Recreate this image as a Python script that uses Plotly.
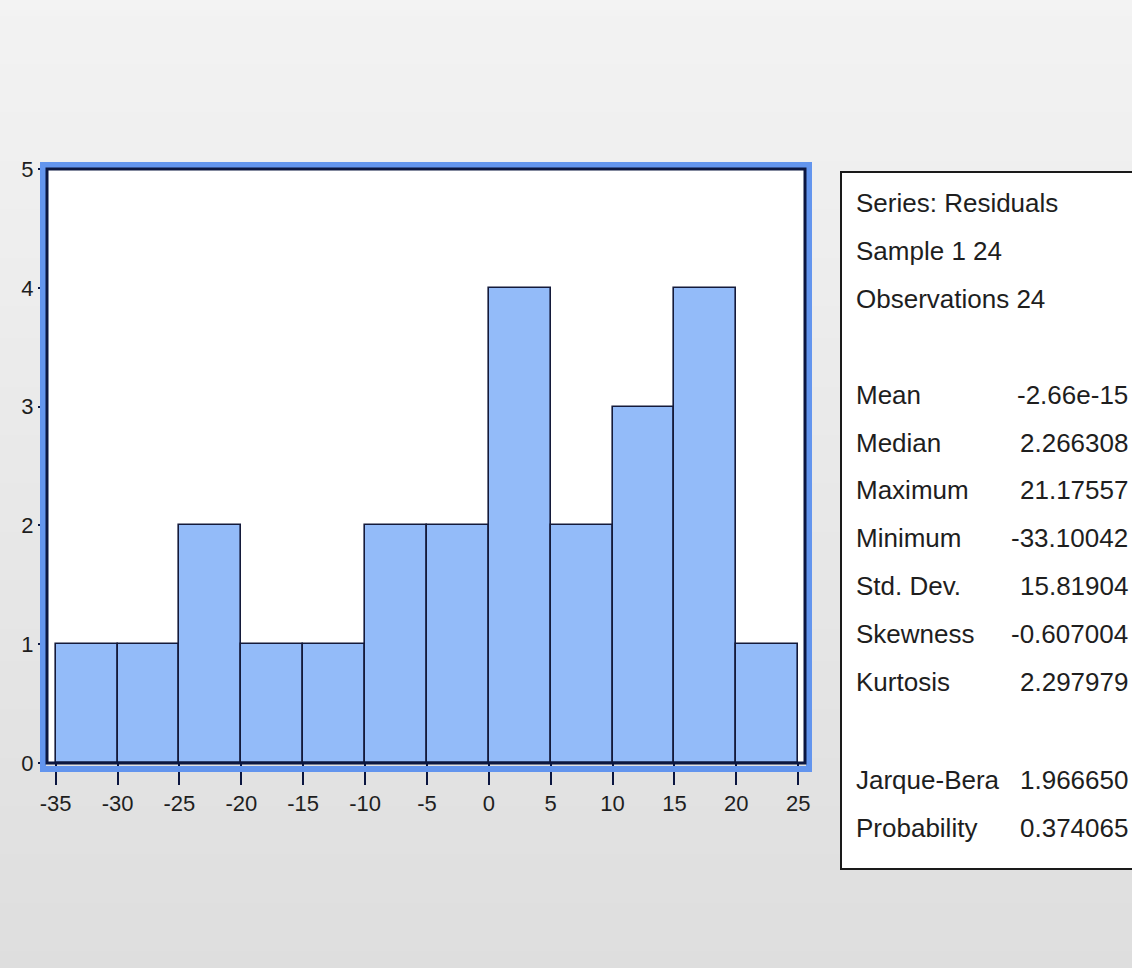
import plotly.graph_objects as go

# ---------------- data ----------------
bin_left = [-35, -30, -25, -20, -15, -10, -5, 0, 5, 10, 15, 20]
bin_width = 5
counts = [1, 1, 2, 1, 1, 2, 2, 4, 2, 3, 4, 1]
x_ticks = [-35, -30, -25, -20, -15, -10, -5, 0, 5, 10, 15, 20, 25]
y_ticks = [0, 1, 2, 3, 4, 5]

header_lines = ["Series: Residuals", "Sample 1 24", "Observations 24"]
stat_names = ["Mean", "Median", "Maximum", "Minimum", "Std. Dev.", "Skewness", "Kurtosis"]
stat_values = ["-2.66e-15", "2.266308", "21.17557", "-33.10042", "15.81904", "-0.607004", "2.297979"]
test_names = ["Jarque-Bera", "Probability"]
test_values = ["1.966650", "0.374065"]

# ---------------- geometry (pixels) ----------------
W, H = 1132, 968
L, R, T, B = 47, 805, 169, 763   # plot area in px
PW, PH = R - L, B - T

def px(xp):
    return (xp - L) / PW

def py(yp):
    return (B - yp) / PH

FONT = "Liberation Sans Narrow, Arial Narrow, Liberation Sans, Arial, sans-serif"
NAVY = "#0b1640"
TXT = "#1e1e1e"

fig = go.Figure()
fig.add_trace(go.Bar(
    x=bin_left, y=counts, width=bin_width, offset=0,
    marker=dict(color="#93bbf9", line=dict(color="#141a3a", width=1.6)),
    hoverinfo="skip",
))

shapes = []
# background gradient bands
nb = 60
c_top, c_bot = 243, 222
for i in range(nb):
    y0p = H * i / nb
    y1p = H * (i + 1) / nb
    c = round(c_top + (c_bot - c_top) * (i + 0.5) / nb)
    shapes.append(dict(type="rect", xref="paper", yref="paper", layer="below",
                       x0=px(-5), x1=px(W + 5), y0=py(y1p + 0.5), y1=py(y0p - 0.5),
                       fillcolor=f"rgb({c},{c},{c})", line=dict(width=0)))
# white plot area
shapes.append(dict(type="rect", xref="paper", yref="paper", layer="below",
                   x0=0, x1=1, y0=0, y1=1, fillcolor="white", line=dict(width=0)))
# blue outer frame
shapes.append(dict(type="rect", xref="paper", yref="paper", layer="above",
                   x0=px(43), x1=px(809), y0=py(769), y1=py(165),
                   line=dict(color="#6395ee", width=6), fillcolor="rgba(0,0,0,0)"))
# navy inner frame
shapes.append(dict(type="rect", xref="paper", yref="paper", layer="above",
                   x0=0, x1=1, y0=0, y1=1,
                   line=dict(color=NAVY, width=3), fillcolor="rgba(0,0,0,0)"))
# stats box
shapes.append(dict(type="rect", xref="paper", yref="paper", layer="above",
                   x0=px(841), x1=px(W + 10), y0=py(869), y1=py(172),
                   line=dict(color="#1a1a1a", width=2), fillcolor="white"))

annotations = []
def add_text(text, xpix, ypix, anchor):
    annotations.append(dict(text=text, xref="paper", yref="paper",
                            x=px(xpix), y=py(ypix), xanchor=anchor, yanchor="middle",
                            showarrow=False,
                            font=dict(family=FONT, size=26, color=TXT)))

ROW0, ROWH = 203, 47.9
def row_y(k):
    return ROW0 + ROWH * k

for k, t in enumerate(header_lines):
    add_text(t, 854, row_y(k), "left")
for k, (n, v) in enumerate(zip(stat_names, stat_values)):
    yy = row_y(k + 4)
    add_text(n, 854, yy, "left")
    add_text(v, 1130, yy, "right")
for k, (n, v) in enumerate(zip(test_names, test_values)):
    yy = row_y(k + 12) + 2
    add_text(n, 854, yy, "left")
    add_text(v, 1130, yy, "right")

fig.update_layout(
    width=W, height=H,
    margin=dict(l=L, r=W - R, t=T, b=H - B, pad=0),
    paper_bgcolor="#eaeaea", plot_bgcolor="rgba(0,0,0,0)",
    showlegend=False, bargap=0,
    shapes=shapes, annotations=annotations,
    xaxis=dict(range=[-35.7, 25.55], tickvals=x_ticks, ticktext=[str(v) for v in x_ticks],
               ticks="outside", ticklen=21, tickwidth=1.5, tickcolor=NAVY,
               showgrid=False, zeroline=False, showline=False,
               tickfont=dict(family=FONT, size=22, color=TXT)),
    yaxis=dict(range=[0, 5], tickvals=y_ticks, ticktext=[str(v) for v in y_ticks],
               ticks="outside", ticklen=8, tickwidth=1.5, tickcolor=NAVY,
               showgrid=False, zeroline=False, showline=False,
               tickfont=dict(family=FONT, size=22, color=TXT)),
)

fig.write_html("out.html")
